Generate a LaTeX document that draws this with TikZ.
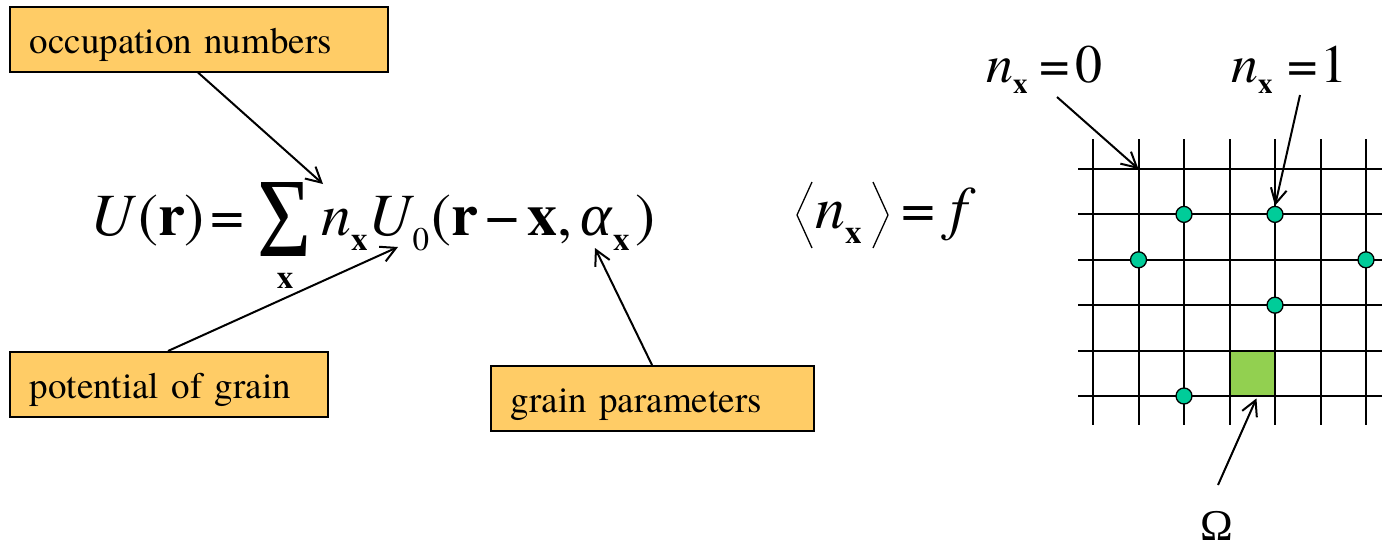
\documentclass[tikz,border=0pt]{standalone}
\usepackage{fontspec}
\setmainfont{texgyretermes}[Extension=.otf, UprightFont=*-regular, BoldFont=*-bold, ItalicFont=*-italic, BoldItalicFont=*-bolditalic]
\newfontfamily\greekfont{Liberation Serif}
\usetikzlibrary{arrows.meta}
\definecolor{boxfill}{HTML}{FFCC66}
\definecolor{dotfill}{HTML}{00CC99}
\definecolor{cellfill}{HTML}{92D050}
\newcommand{\bsub}[1]{\raisebox{-15pt}{\fontsize{33}{33}\selectfont\bfseries #1}}
\newcommand{\rsub}[1]{\raisebox{-15pt}{\fontsize{33}{33}\selectfont #1}}
\newcommand{\tsub}[1]{\raisebox{-11pt}{\fontsize{29}{29}\selectfont\bfseries #1}}
\begin{document}
\begin{tikzpicture}[x=1pt,y=-1pt,
  lbl/.style={draw=black, line width=1.5pt, fill=boxfill, font=\fontsize{37}{40}\selectfont,
    text height=34pt, text depth=6pt, minimum height=65pt, inner xsep=20pt, inner ysep=0pt,
    align=left, anchor=north west},
  arr/.style={line width=2pt, -{Straight Barb[length=15pt,width=16pt]}},
  eq/.style={inner sep=0pt, font=\fontsize{60}{60}\selectfont, anchor=base west},
  toplbl/.style={inner sep=0pt, font=\fontsize{54}{54}\selectfont, anchor=base west},
  gridline/.style={line width=2pt},
  occdot/.style={circle, draw=black, line width=1.3pt, fill=dotfill, minimum size=16pt, inner sep=0pt},
  bracket/.style={line width=1.3pt}]
\useasboundingbox (0,0) rectangle (1382,544);

% label boxes
\node[lbl, text width=338pt] (occ) at (9,6) {occupation numbers};
\node[lbl, text width=278pt] (pot) at (9,351) {potential of grain};
\node[lbl, text width=283pt] (gp) at (490,365) {grain parameters};

% main equation
\node[eq] (eqL) at (90,235) {\textit{U}\kern2pt(\textbf{r})};
\node[eq] (eqEq) at (210,235) {=};
\node[inner sep=0pt, font=\fontsize{113}{113}\selectfont\greekfont] (sum) at (284.5,219.5) {\scalebox{0.82}[1]{Σ}};
\node[inner sep=0pt, font=\fontsize{33}{33}\selectfont\bfseries, anchor=base] (sumx) at (285,288) {x};
\node[eq] (eqR) at (321,235) {\textit{n}\bsub{x}\kern1pt\textit{U}\kern-2pt\rsub{0}\kern2pt(\textbf{r}\kern8pt−\kern8pt\textbf{x},\kern8pt{\greekfont\itshape α}\kern1pt\bsub{x}\kern6pt)};

% mean occupation
\node[eq] (avgn) at (815,228) {\textit{n}\bsub{x}};
\draw[bracket] (812,182) -- (797,215) -- (812,248);
\draw[bracket] (873,182) -- (888,215) -- (873,248);
\node[eq] (avgeq) at (901,228) {=\kern15pt\textit{f}};

% grid
\node[fill=cellfill, minimum width=45.5pt, minimum height=45.4pt, inner sep=0pt, anchor=north west] (cell) at (1229.5,350.6) {};
\foreach \i in {0,...,6} {
  \draw[gridline] (1093+45.5*\i,139) -- (1093+45.5*\i,425);
}
\foreach \j in {0,...,5} {
  \draw[gridline] (1078,169+45.4*\j) -- (1382,169+45.4*\j);
}
\node[occdot] (d1) at (1184,214.4) {};
\node[occdot] (d2) at (1275,214.4) {};
\node[occdot] (d3) at (1138.5,259.8) {};
\node[occdot] (d4) at (1366,259.8) {};
\node[occdot] (d5) at (1275,305.2) {};
\node[occdot] (d6) at (1184,396) {};
\coordinate (empty) at (1138.5,169);

% top labels
\node[toplbl] (lab0) at (986,82) {\textit{n}\tsub{x}\kern12pt=\kern5pt0};
\node[toplbl] (lab1) at (1231,82) {\textit{n}\tsub{x}\kern15pt=\kern2pt1};
\node[inner sep=0pt, font=\fontsize{44}{44}\selectfont\greekfont, anchor=base] (omega) at (1217,540) {Ω};

% arrows
\coordinate (occTip) at (323,184);
\coordinate (potTip) at (398,247);
\coordinate (gpTip) at (595,248);
\coordinate (lab0s) at (1057,97);
\coordinate (lab1s) at (1300,95);
\coordinate (omegas) at (1218,485);
\draw[arr] ([xshift=189pt]occ.south west) -- (occTip);
\draw[arr] ([xshift=159pt]pot.north west) -- (potTip);
\draw[arr] ([xshift=162pt]gp.north west) -- (gpTip);
\draw[arr] (lab0s) -- (empty);
\draw[arr] (lab1s) -- (d2.north);
\draw[arr] (omegas) -- ([xshift=4pt,yshift=-2pt]cell.south);
\end{tikzpicture}
\end{document}
